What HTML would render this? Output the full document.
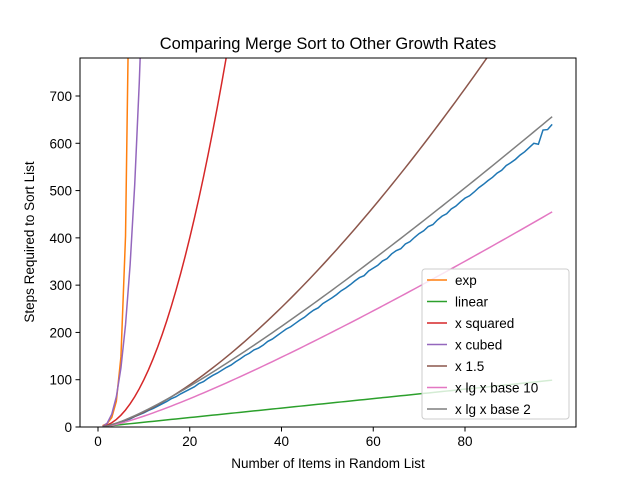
<!DOCTYPE html>
<html><head><meta charset="utf-8"><style>
body{margin:0;background:#fff;}
svg{display:block;font-family:"Liberation Sans","DejaVu Sans",sans-serif;}
</style></head><body>
<svg id="chart" width="640" height="480">
<rect width="640" height="480" fill="#fff"/>
<defs><clipPath id="clip"><rect x="80" y="58" width="496" height="369"/></clipPath></defs>
<text x="328" y="49" text-anchor="middle" font-size="16.5">Comparing Merge Sort to Other Growth Rates</text>
<text x="328" y="468" text-anchor="middle" font-size="13.5">Number of Items in Random List</text>
<text transform="translate(34,242) rotate(-90)" text-anchor="middle" font-size="13.5">Steps Required to Sort List</text>
<g id="ticks"></g>
<g id="series" clip-path="url(#clip)"></g>
<rect x="80" y="58" width="496" height="369" fill="none" stroke="#000" stroke-width="1"/>
<g id="legend"></g>
</svg>
<script>
const xTicks=[0,20,40,60,80];
const yTicks=[0,100,200,300,400,500,600,700];
const mergeSteps=[0,2,4,6,10,14,17,22,26,30,35,39,44,49,54,60,64,70,75,80,85,92,96,103,109,114,120,126,131,138,144,151,156,163,167,173,181,186,193,200,207,212,219,226,232,240,247,252,261,267,273,280,288,294,301,309,316,320,330,336,342,351,356,366,373,377,387,392,401,409,415,424,428,438,446,451,461,467,476,484,489,497,506,513,521,528,537,543,553,559,566,575,582,591,600,598,628,629,640];
const seriesNames=["exp","linear","x squared","x cubed","x 1.5","x lg x base 10","x lg x base 2"];
const seriesColors=["#ff7f0e","#2ca02c","#d62728","#9467bd","#8c564b","#e377c2","#7f7f7f"];
const ns=mergeSteps.map((_,i)=>i+1);
const fns=[n=>Math.exp(n),n=>n,n=>n*n,n=>n*n*n,n=>Math.pow(n,1.5),n=>n*Math.log(n),n=>n*Math.log2(n)];
const X=v=>98+v*4.5875, Y=v=>427-v*(331/700);
const NS="http://www.w3.org/2000/svg";
function el(t,a,p){const e=document.createElementNS(NS,t);for(const k in a)e.setAttribute(k,a[k]);p.appendChild(e);return e;}
const tg=document.getElementById('ticks');
xTicks.forEach(t=>{
 const l=el('line',{x1:X(t),x2:X(t),y1:427,y2:431.5,stroke:'#000'},tg);
 
 
 const tx=el('text',{x:X(t),y:446,'text-anchor':'middle','font-size':13.5},tg);tx.textContent=t;
 
 
});
yTicks.forEach(t=>{
 const l=el('line',{x1:75.5,x2:80,y1:Y(t),y2:Y(t),stroke:'#000'},tg);
 
 
 const tx=el('text',{x:72,y:Y(t)+5,'text-anchor':'end','font-size':13.5},tg);tx.textContent=t;
 
 
});
const sg=document.getElementById('series');
function poly(vals,color,name){
 const pts=ns.map((n,i)=>X(n)+','+Math.max(-2000,Y(vals[i])).toFixed(2)).join(' ');
 const p=el('polyline',{points:pts,fill:'none',stroke:color,'stroke-width':1.5},sg);
 
 
}
poly(mergeSteps,'#1f77b4','merge-sort-line');
fns.forEach((f,i)=>poly(ns.map(f),seriesColors[i],'line-'+seriesNames[i].replace(/ /g,'-')));
const lg=document.getElementById('legend');
const box=el('rect',{x:422,y:269,width:147,height:150,rx:3,fill:'#fff','fill-opacity':0.8,stroke:'#ccc'},lg);


seriesNames.forEach((s,i)=>{
 const y=280+i*21.5;
 const l=el('line',{x1:427,x2:447,y1:y,y2:y,stroke:seriesColors[i],'stroke-width':1.5},lg);
 
 
 const t=el('text',{x:455,y:y+5,'font-size':13.5},lg);t.textContent=s;
 
 
});
</script>
</body></html>
